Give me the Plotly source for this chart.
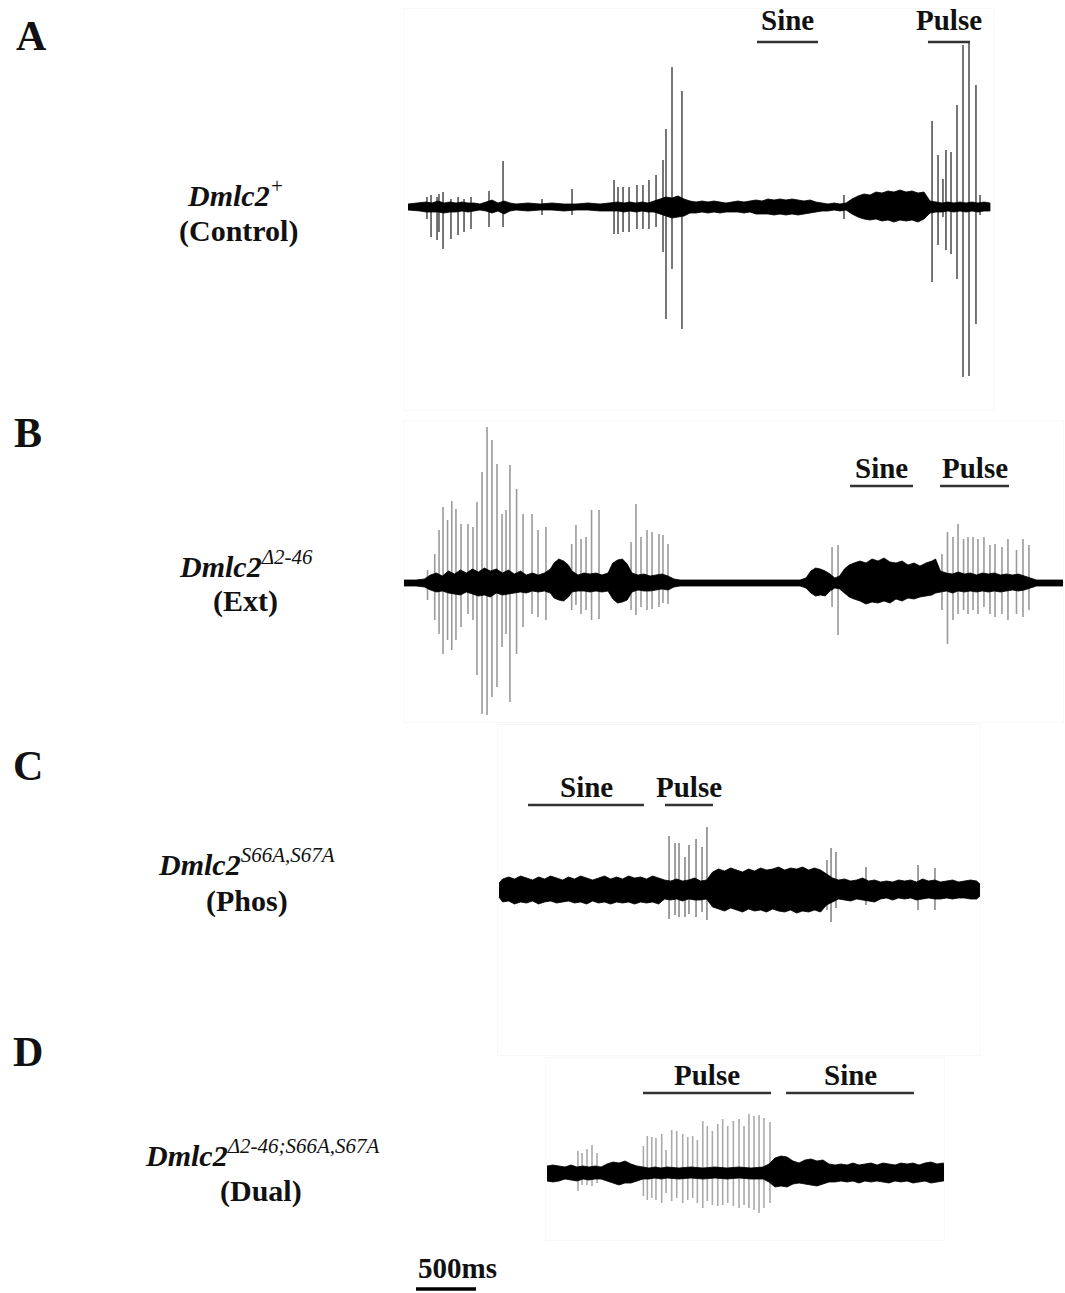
import plotly.graph_objects as go

W, H = 1065, 1293
MS_PER_PX = 500 / 60          # shared time scale of the four song traces
FONT = "Liberation Serif"

# ---------------- A: Dmlc2+ (Control) ----------------
a_pulse_t = [158, 192, 242, 258, 292, 358, 417, 467, 525, 675, 792, 1117, 1367,
             1717, 1750, 1792, 1842, 1908, 1958, 2008, 2067, 2125, 2150, 2200, 2283,
             3633, 4367, 4417, 4458, 4483, 4525, 4575, 4625, 4675, 4733, 4767]
a_pulse_up = [10, 12, 10, 13, 15, 8, 10, 8, 10, 16, 46, 8, 18,
              27, 20, 20, 20, 22, 22, 27, 32, 47, 78, 140, 116,
              12, 86, 52, 28, 57, 55, 102, 162, 165, 122, 12]
a_pulse_dn = [12, 30, 33, 25, 42, 32, 28, 25, 22, 20, 20, 8, 8,
              27, 27, 25, 25, 22, 22, 22, 20, 45, 112, 62, 122,
              12, 75, 38, 10, 43, 47, 72, 170, 169, 117, 8]
a_env_t = [0, 100, 150, 200, 250, 300, 350, 400, 450, 500, 550, 600, 650, 700, 750,
           800, 850, 900, 1000, 1100, 1200, 1300, 1400, 1500, 1600, 1700, 1750, 1800,
           1850, 1900, 1950, 2000, 2050, 2100, 2150, 2200, 2250, 2300, 2350, 2400,
           2450, 2500, 2550, 2600, 2650, 2700, 2750, 2800, 2850, 2900, 2950, 3000,
           3050, 3100, 3150, 3200, 3250, 3300, 3350, 3400, 3450, 3500, 3550, 3600,
           3650, 3700, 3750, 3800, 3850, 3900, 3950, 4000, 4050, 4100, 4150, 4200,
           4250, 4300, 4350, 4400, 4450, 4500, 4550, 4600, 4650, 4700, 4750, 4800, 4850]
a_env_up = [3, 4, 5, 4, 6, 4, 5, 4, 5, 4, 4, 3, 5, 7, 4,
            6, 4, 3, 4, 3, 4, 3, 3, 4, 3, 4, 5, 4,
            5, 4, 5, 4, 6, 8, 10, 9, 11, 8, 6, 5,
            6, 5, 6, 5, 4, 5, 6, 5, 6, 7, 6, 8,
            7, 8, 7, 8, 7, 6, 7, 5, 4, 3, 4, 3,
            4, 8, 11, 13, 12, 15, 14, 16, 15, 17, 15, 16,
            14, 15, 6, 5, 4, 5, 4, 5, 4, 5, 4, 5, 4]
a_env_dn = [3, 4, 5, 5, 5, 6, 5, 5, 4, 5, 4, 3, 4, 6, 4,
            7, 4, 3, 4, 3, 3, 4, 3, 3, 4, 4, 4, 5,
            4, 5, 4, 5, 5, 7, 9, 11, 10, 9, 6, 6,
            5, 6, 5, 6, 5, 5, 5, 6, 5, 7, 7, 7,
            8, 7, 8, 7, 8, 7, 6, 5, 4, 4, 3, 4,
            3, 7, 10, 12, 13, 12, 14, 13, 15, 13, 14, 13,
            15, 12, 6, 5, 5, 4, 5, 4, 5, 4, 5, 4, 4]
a_seg_label = ["Sine", "Pulse"]
a_seg_start = [2908, 4333]
a_seg_end = [3417, 4683]

# ---------------- B: Dmlc2 delta2-46 (Ext) ----------------
b_pulse_t = [196, 256, 292, 325, 363, 398, 433, 475, 533, 575, 608, 650, 692, 733,
             775, 817, 850, 883, 938, 992, 1067, 1117, 1183,
             1397, 1433, 1475, 1517, 1563, 1625,
             1892, 1933, 1975, 2025, 2067, 2125, 2158, 2200,
             3567, 3617,
             4433, 4483, 4529, 4575, 4617, 4663, 4700, 4742, 4783, 4833, 4883, 4925,
             4983, 5033, 5104, 5158, 5208]
b_pulse_up = [13, 29, 53, 76, 63, 82, 74, 59, 59, 56, 81, 111, 156, 143,
              119, 69, 73, 118, 94, 69, 69, 53, 56,
              39, 58, 44, 46, 73, 73,
              41, 79, 46, 53, 51, 49, 48, 39,
              36, 38,
              21, 29, 51, 46, 59, 44, 46, 46, 44, 46, 38, 39,
              36, 44, 33, 44, 38]
b_pulse_dn = [17, 37, 51, 71, 57, 67, 57, 44, 31, 37, 92, 131, 132, 114,
              104, 64, 51, 119, 71, 44, 31, 34, 37,
              27, 22, 31, 27, 37, 36,
              27, 32, 24, 27, 26, 24, 20, 21,
              24, 52,
              10, 27, 61, 37, 31, 27, 31, 27, 31, 24, 31, 34,
              31, 37, 31, 34, 27]
b_env_t = [0, 100, 170, 220, 270, 320, 370, 420, 470, 520, 570, 620, 670, 720, 770,
           820, 870, 920, 970, 1020, 1070, 1120, 1170, 1220, 1250, 1290, 1330, 1370,
           1400, 1450, 1500, 1550, 1600, 1650, 1700, 1740, 1780, 1820, 1860, 1900,
           1950, 2000, 2050, 2100, 2150, 2200, 2250, 2300, 2500, 2700, 2900, 3100,
           3300, 3350, 3390, 3430, 3470, 3510, 3550, 3590, 3630, 3670, 3710, 3750,
           3800, 3850, 3900, 3950, 4000, 4050, 4100, 4150, 4200, 4250, 4300, 4350,
           4400, 4430, 4470, 4520, 4570, 4620, 4670, 4720, 4770, 4820, 4870, 4920,
           4970, 5020, 5070, 5120, 5170, 5220, 5270, 5400, 5500]
b_env_up = [3, 3, 4, 8, 10, 7, 12, 9, 13, 10, 14, 11, 15, 12, 14,
            10, 13, 9, 12, 8, 10, 8, 10, 14, 20, 24, 22, 18,
            12, 8, 10, 9, 10, 8, 10, 20, 23, 24, 19, 10,
            8, 9, 7, 8, 9, 7, 4, 3, 3, 3, 3, 3,
            3, 5, 12, 15, 14, 12, 9, 5, 7, 14, 18, 20,
            22, 20, 24, 22, 25, 21, 20, 22, 18, 20, 17, 20,
            22, 24, 12, 10, 9, 11, 9, 10, 8, 10, 9, 10,
            8, 9, 8, 9, 7, 5, 3, 3, 3]
b_env_dn = [3, 3, 4, 7, 9, 8, 10, 11, 12, 9, 11, 13, 12, 14, 10,
            12, 11, 10, 9, 10, 8, 9, 8, 10, 15, 17, 18, 14,
            9, 8, 8, 9, 8, 9, 8, 16, 20, 19, 17, 9,
            7, 8, 8, 7, 6, 7, 4, 3, 3, 3, 3, 3,
            3, 5, 10, 13, 12, 13, 8, 5, 6, 10, 14, 16,
            18, 21, 19, 20, 18, 20, 16, 18, 15, 16, 14, 13,
            12, 10, 9, 8, 10, 8, 9, 8, 9, 8, 9, 8,
            9, 8, 7, 8, 7, 5, 3, 3, 3]
b_seg_label = ["Sine", "Pulse"]
b_seg_start = [3717, 4467]
b_seg_end = [4242, 5042]

# ---------------- C: Dmlc2 S66A,S67A (Phos) ----------------
c_pulse_t = [1417, 1467, 1500, 1550, 1583, 1642, 1692, 1733, 2733, 2767, 2808,
             3058, 3492, 3633]
c_pulse_up = [54, 47, 47, 33, 45, 51, 43, 63, 30, 42, 38, 23, 25, 22]
c_pulse_dn = [29, 25, 27, 27, 24, 27, 22, 30, 20, 32, 18, 15, 20, 20]
c_env_t = [0, 30, 80, 130, 180, 230, 280, 330, 380, 430, 480, 530, 580, 630, 680,
           730, 780, 830, 880, 930, 980, 1030, 1080, 1130, 1180, 1230, 1280, 1330,
           1380, 1430, 1480, 1530, 1580, 1630, 1680, 1730, 1780, 1830, 1880, 1930,
           1980, 2030, 2080, 2130, 2180, 2230, 2280, 2330, 2380, 2430, 2480, 2530,
           2580, 2630, 2680, 2730, 2780, 2830, 2880, 2930, 2980, 3030, 3080, 3130,
           3180, 3230, 3280, 3330, 3380, 3430, 3480, 3530, 3580, 3630, 3680, 3730,
           3780, 3830, 3880, 3930, 3980, 4008]
c_env_up = [7, 11, 13, 11, 14, 12, 10, 13, 11, 14, 12, 10, 13, 11, 14,
            12, 10, 12, 14, 11, 13, 11, 14, 12, 13, 11, 14, 12,
            10, 9, 11, 9, 10, 12, 9, 10, 18, 21, 19, 22,
            20, 18, 21, 19, 22, 20, 21, 23, 20, 22, 21, 23,
            20, 22, 20, 16, 12, 10, 11, 9, 10, 12, 9, 10,
            8, 9, 8, 10, 9, 10, 8, 11, 9, 10, 8, 9,
            10, 8, 9, 10, 9, 6]
c_env_dn = [7, 12, 11, 14, 12, 13, 11, 14, 12, 11, 13, 12, 11, 13, 12,
            14, 11, 13, 12, 14, 12, 13, 12, 14, 12, 13, 12, 14,
            9, 10, 9, 11, 9, 10, 10, 9, 17, 19, 21, 18,
            20, 22, 19, 21, 20, 22, 19, 21, 22, 20, 23, 21,
            22, 20, 22, 15, 12, 9, 10, 11, 9, 10, 11, 12,
            9, 8, 10, 8, 9, 8, 10, 9, 8, 9, 9, 8,
            9, 8, 8, 9, 9, 6]
c_seg_label = ["Sine", "Pulse"]
c_seg_start = [242, 1383]
c_seg_end = [1208, 1783]

# ---------------- D: Dmlc2 delta2-46;S66A,S67A (Dual) ----------------
d_pulse_t = [258, 292, 333, 375, 417,
             803, 836, 873, 908, 956, 992, 1039, 1081, 1131, 1173, 1214, 1253,
             1298, 1336, 1378, 1423, 1464, 1506, 1553, 1600, 1642, 1683, 1725,
             1767, 1808, 1858]
d_pulse_up = [22, 20, 24, 28, 20,
              27, 37, 36, 35, 39, 23, 43, 42, 39, 36, 37, 33,
              52, 47, 42, 49, 54, 47, 52, 54, 47, 59, 57,
              58, 55, 51]
d_pulse_dn = [18, 12, 12, 13, 10,
              23, 27, 25, 27, 30, 20, 28, 25, 30, 27, 25, 30,
              35, 28, 32, 33, 32, 30, 33, 35, 32, 35, 37,
              40, 35, 30]
d_env_t = [0, 50, 100, 150, 200, 250, 300, 350, 400, 450, 500, 550, 600, 650, 700,
           750, 800, 850, 900, 950, 1000, 1100, 1200, 1300, 1400, 1500, 1600, 1700,
           1800, 1850, 1900, 1950, 2000, 2050, 2100, 2150, 2200, 2250, 2300, 2350,
           2400, 2450, 2500, 2550, 2600, 2650, 2700, 2750, 2800, 2850, 2900, 2950,
           3000, 3050, 3100, 3150, 3200, 3250, 3300, 3317]
d_env_up = [7, 8, 7, 6, 8, 6, 7, 6, 7, 6, 9, 11, 10, 12, 9,
            7, 6, 5, 6, 5, 6, 5, 6, 5, 6, 5, 6, 5,
            6, 9, 15, 17, 16, 12, 10, 13, 14, 12, 13, 9,
            8, 9, 8, 10, 8, 9, 10, 8, 10, 9, 8, 10,
            9, 10, 8, 10, 11, 9, 10, 9]
d_env_dn = [8, 9, 8, 6, 7, 8, 6, 7, 6, 6, 8, 10, 12, 10, 10,
            8, 6, 6, 5, 6, 5, 6, 5, 6, 5, 6, 5, 6,
            6, 9, 14, 13, 14, 11, 10, 11, 12, 13, 11, 9,
            9, 8, 9, 8, 10, 8, 9, 8, 9, 10, 8, 9,
            8, 10, 9, 8, 10, 9, 8, 8]
d_seg_label = ["Pulse", "Sine"]
d_seg_start = [800, 1992]
d_seg_end = [1867, 3058]

SCALE_BAR_MS = 500

SUP = '<span style="font-size:21px">{}</span>'

# Panel geometry in page pixels: frame box, trace start and baseline row
panels = [
    dict(letter="A", name="<b><i>Dmlc2</i></b><sup>" + SUP.format("<i>+</i>") + "</sup>",
         sub="<b>(Control)</b>",
         box=(404, 994, 9, 410), x0=408, base=207, letter_xy=(31, 36), name_xy=(235, 193),
         sub_xy=(238, 231), label_y=20, line_y=42, pulse_color="#555555",
         pulses=(a_pulse_t, a_pulse_up, a_pulse_dn), env=(a_env_t, a_env_up, a_env_dn),
         segs=(a_seg_label, a_seg_start, a_seg_end)),
    dict(letter="B", name="<b><i>Dmlc2</i></b><sup>" + SUP.format("<i>Δ2-46</i>") + "</sup>",
         sub="<b>(Ext)</b>",
         box=(404, 1063, 421, 722), x0=404, base=583, letter_xy=(28, 433), name_xy=(246, 564),
         sub_xy=(245, 601), label_y=468, line_y=486, pulse_color="#9a9a9a",
         pulses=(b_pulse_t, b_pulse_up, b_pulse_dn), env=(b_env_t, b_env_up, b_env_dn),
         segs=(b_seg_label, b_seg_start, b_seg_end)),
    dict(letter="C", name="<b><i>Dmlc2</i></b><sup>" + SUP.format("<i>S66A,S67A</i>") + "</sup>",
         sub="<b>(Phos)</b>",
         box=(498, 980, 725, 1055), x0=499, base=890, letter_xy=(28, 766), name_xy=(246, 862),
         sub_xy=(247, 901), label_y=787, line_y=805, pulse_color="#888888",
         pulses=(c_pulse_t, c_pulse_up, c_pulse_dn), env=(c_env_t, c_env_up, c_env_dn),
         segs=(c_seg_label, c_seg_start, c_seg_end)),
    dict(letter="D", name="<b><i>Dmlc2</i></b><sup>" + SUP.format("<i>Δ2-46;S66A,S67A</i>") + "</sup>",
         sub="<b>(Dual)</b>",
         box=(546, 944, 1058, 1240), x0=547, base=1173, letter_xy=(28, 1052), name_xy=(262, 1153),
         sub_xy=(261, 1191), label_y=1075, line_y=1093, pulse_color="#aaaaaa",
         pulses=(d_pulse_t, d_pulse_up, d_pulse_dn), env=(d_env_t, d_env_up, d_env_dn),
         segs=(d_seg_label, d_seg_start, d_seg_end)),
]


def px(x):
    return x / W


def py(y):
    return 1 - y / H


fig = go.Figure()
annotations = []
shapes = []
layout_axes = {}

for i, p in enumerate(panels, start=1):
    xa = "x" if i == 1 else f"x{i}"
    ya = "y" if i == 1 else f"y{i}"
    xl, xr, yt, yb = p["box"]
    x0, base = p["x0"], p["base"]

    # pulse song: one vertical stroke per pulse, from its peak to its trough
    pt, pu, pd = p["pulses"]
    xs, ys = [], []
    for t, u, d in zip(pt, pu, pd):
        xs += [t, t, None]
        ys += [u, -d, None]
    fig.add_trace(go.Scatter(x=xs, y=ys, mode="lines", xaxis=xa, yaxis=ya,
                             line=dict(color=p["pulse_color"], width=1.6),
                             hoverinfo="skip", showlegend=False))

    # sine song / background noise envelope
    et, eu, ed = p["env"]
    assert len(et) == len(eu) == len(ed)
    fig.add_trace(go.Scatter(x=list(et) + list(et[::-1]),
                             y=list(eu) + [-v for v in ed[::-1]],
                             mode="lines", fill="toself", fillcolor="black",
                             line=dict(color="black", width=0.8),
                             xaxis=xa, yaxis=ya, hoverinfo="skip", showlegend=False))

    # song-type labels with their underlines
    labels, starts, ends = p["segs"]
    for lab, s, e in zip(labels, starts, ends):
        shapes.append(dict(type="line", xref=xa, yref=ya, x0=s, x1=e,
                           y0=base - p["line_y"], y1=base - p["line_y"],
                           line=dict(color="#333333", width=2.5)))
        annotations.append(dict(x=(s + e) / 2, y=base - p["label_y"], xref=xa, yref=ya,
                                text=f"<b>{lab}</b>", showarrow=False,
                                xanchor="center", yanchor="middle",
                                font=dict(family=FONT, size=29, color="#111111")))

    axis_style = dict(showgrid=False, zeroline=False, showticklabels=False, ticks="",
                      showline=True, mirror=True, linecolor="#f8f8f8", linewidth=1,
                      fixedrange=True)
    layout_axes["xaxis" if i == 1 else f"xaxis{i}"] = dict(
        domain=[px(xl), px(xr)], range=[(xl - x0) * MS_PER_PX, (xr - x0) * MS_PER_PX],
        anchor=ya, **axis_style)
    layout_axes["yaxis" if i == 1 else f"yaxis{i}"] = dict(
        domain=[py(yb), py(yt)], range=[-(yb - base), base - yt], anchor=xa, **axis_style)

    lx, ly = p["letter_xy"]
    annotations.append(dict(x=px(lx), y=py(ly), xref="paper", yref="paper",
                            text=f"<b>{p['letter']}</b>", showarrow=False,
                            xanchor="center", yanchor="middle",
                            font=dict(family=FONT, size=42, color="#111111")))
    nx, ny = p["name_xy"]
    annotations.append(dict(x=px(nx), y=py(ny), xref="paper", yref="paper",
                            text=p["name"], showarrow=False,
                            xanchor="center", yanchor="middle",
                            font=dict(family=FONT, size=30, color="#111111")))
    sx, sy = p["sub_xy"]
    annotations.append(dict(x=px(sx), y=py(sy), xref="paper", yref="paper",
                            text=p["sub"], showarrow=False,
                            xanchor="center", yanchor="middle",
                            font=dict(family=FONT, size=30, color="#111111")))

# full-page overlay axis carrying the time scale bar
bar_x0 = 416 * MS_PER_PX
fig.add_trace(go.Scatter(x=[bar_x0, bar_x0 + SCALE_BAR_MS], y=[1289, 1289], mode="lines",
                         xaxis="x5", yaxis="y5", line=dict(color="black", width=3.5),
                         hoverinfo="skip", showlegend=False))
layout_axes["xaxis5"] = dict(domain=[0, 1], range=[0, W * MS_PER_PX], visible=False,
                             anchor="y5", fixedrange=True)
layout_axes["yaxis5"] = dict(domain=[0, 1], range=[H, 0], visible=False,
                             anchor="x5", fixedrange=True)
annotations.append(dict(x=bar_x0, y=1268, xref="x5", yref="y5", text="<b>500ms</b>",
                        showarrow=False, xanchor="left", yanchor="middle",
                        font=dict(family=FONT, size=29, color="#111111")))

fig.update_layout(width=W, height=H, margin=dict(l=0, r=0, t=0, b=0),
                  paper_bgcolor="white", plot_bgcolor="rgba(0,0,0,0)",
                  annotations=annotations, shapes=shapes, **layout_axes)

fig.write_html("out.html")
